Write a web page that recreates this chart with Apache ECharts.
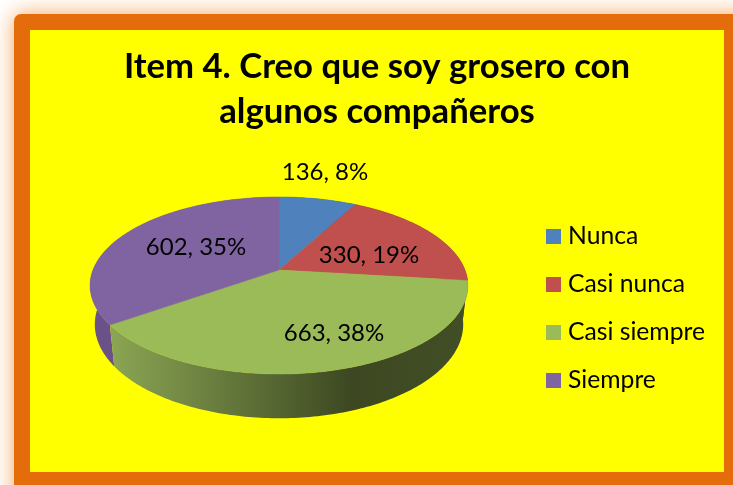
<!DOCTYPE html>
<html>
<head>
<meta charset="utf-8">
<style>
  html, body { margin: 0; padding: 0; background: #fff; }
  #main { width: 733px; height: 485px; }
</style>
<script src="https://cdn.jsdelivr.net/npm/echarts@6/dist/echarts.min.js"></script>
</head>
<body>
<div id="main"></div>
<script>
// datos
const categories = ['Nunca', 'Casi nunca', 'Casi siempre', 'Siempre'];
const values = [136, 330, 663, 602];
const titleLines = ['Item 4. Creo que soy grosero con', 'algunos compañeros'];

const colors = ['#4f81bd', '#c0504d', '#9bbb59', '#8064a2'];
const total = values.reduce((a, b) => a + b, 0);

// pixel centres of the data labels
const labelAnchors = [[325, 172], [369, 255], [334, 333], [196, 247]];

// tilted pie: perspective projection of the unit circle
const apex = { x: 279, y: 270 };
const persp = 0.175, scaleX = 186, scaleY = 85.8;
const wall = { y: 308, sx: 0.975, sy: 1.06 };

const project = (deg) => {
  const a = deg * Math.PI / 180;
  const ux = Math.sin(a), uy = -Math.cos(a);
  const w = 1 - persp * uy;
  return [apex.x + scaleX * ux / w, apex.y + scaleY * uy / w];
};
const lower = (p) => [apex.x + (p[0] - apex.x) * wall.sx, wall.y + (p[1] - apex.y) * wall.sy];

const angleRange = (i) => {
  let before = 0;
  for (let k = 0; k < i; k++) before += values[k];
  return [before / total * 360, (before + values[i]) / total * 360];
};
const arc = (from, to) => {
  const pts = [];
  for (let d = from; d < to; d += 1) pts.push(project(d));
  pts.push(project(to));
  return pts;
};

// pared lateral
const wallFills = [
  '#3a5573',
  '#6e2e2c',
  {
    type: 'linear', global: true, x: 109, y: 0, x2: 465, y2: 0,
    colorStops: [
      { offset: 0, color: '#8ba654' },
      { offset: 0.35, color: '#63763a' },
      { offset: 0.68, color: '#3d4822' },
      { offset: 1, color: '#424e25' }
    ]
  },
  '#6a5188'
];
const wallOrder = [0, 1, 3, 2];

const renderWall = (params) => {
  const i = wallOrder[params.dataIndex];
  const r = angleRange(i);
  const top = arc(r[0], r[1]);
  const pts = top.concat(top.slice().reverse().map(lower));
  return {
    type: 'polygon',
    shape: { points: pts },
    style: { fill: wallFills[i], stroke: null }
  };
};

const renderSlice = (i) => (params, api) => {
  const v = api.value(0);
  const r = angleRange(i);
  return {
    type: 'group',
    children: [
      {
        type: 'polygon',
        shape: { points: [[apex.x, apex.y]].concat(arc(r[0], r[1])) },
        style: { fill: colors[i], stroke: colors[i], lineWidth: 0.5 }
      },
      {
        type: 'text',
        z2: 10,
        style: {
          x: labelAnchors[i][0],
          y: labelAnchors[i][1],
          text: v + ', ' + Math.round(v / total * 100) + '%',
          align: 'center',
          verticalAlign: 'middle',
          fill: '#000',
          font: '24px Lato'
        }
      }
    ]
  };
};

const myChart = echarts.init(document.getElementById('main'), null, { renderer: 'canvas' });

const option = {
  animation: false,
  backgroundColor: '#fff',
  graphic: [
    {
      type: 'rect',
      z: -2,
      shape: { x: 14, y: 14, width: 740, height: 490, r: 7 },
      style: { fill: '#e46c0a', shadowBlur: 22, shadowColor: '#f6a460' }
    },
    {
      type: 'rect',
      z: -1,
      shape: { x: 30, y: 30, width: 694, height: 442 },
      style: { fill: '#ffff00' }
    }
  ],
  title: {
    text: titleLines.join('\n'),
    left: 372,
    top: 39,
    textAlign: 'center',
    textStyle: { fontFamily: 'Lato', fontWeight: 'bold', fontSize: 34.7, lineHeight: 45, color: '#000' }
  },
  legend: {
    data: categories,
    orient: 'vertical',
    left: 541,
    top: 219,
    icon: 'rect',
    itemWidth: 15,
    itemHeight: 15,
    itemGap: 23,
    selectedMode: false,
    textStyle: { fontFamily: 'Lato', fontSize: 24.7, lineHeight: 25, color: '#000', padding: [0, 0, 0, 2] }
  },
  series: [
    {
      type: 'custom',
      name: 'pared',
      coordinateSystem: 'none',
      silent: true,
      z: 1,
      data: values.map((v) => [v]),
      renderItem: renderWall
    }
  ].concat(categories.map((name, i) => ({
    type: 'custom',
    name: name,
    coordinateSystem: 'none',
    silent: true,
    z: 2,
    itemStyle: { color: colors[i] },
    data: [[values[i]]],
    renderItem: renderSlice(i)
  })))
};

option && myChart.setOption(option);
</script>
</body>
</html>
